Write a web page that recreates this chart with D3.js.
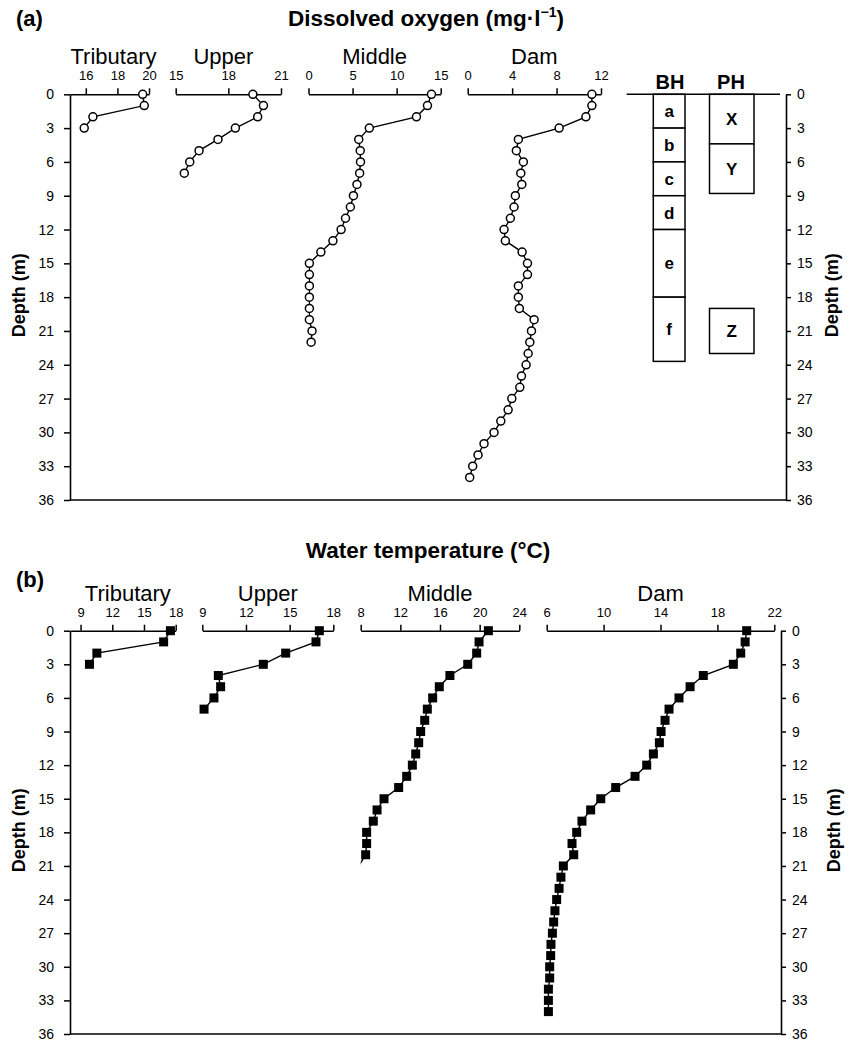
<!DOCTYPE html>
<html><head><meta charset="utf-8">
<script src="https://cdn.jsdelivr.net/npm/d3@7"></script>
<style>
html,body{margin:0;padding:0;background:#fff;}
svg{display:block;font-family:"Liberation Sans",Arial,Helvetica,sans-serif;}
</style></head><body>
<svg id="chart" width="852" height="1042"></svg>
<script>
// ---------------- DATA ----------------
const stations = ["Tributary", "Upper", "Middle", "Dam"];
const depthLevels = [0,1,2,3,4,5,6,7,8,9,10,11,12,13,14,15,16,17,18,19,20,21,22,23,24,25,26,27,28,29,30,31,32,33,34];
const depthTicks = [0,3,6,9,12,15,18,21,24,27,30,33,36];

// Dissolved oxygen (mg/l) by depth (m)
const doTributary = [19.6, 19.7, 16.45, 15.9];
const doUpper = [19.4, 20.0, 19.67, 18.4, 17.41, 16.33, 15.8, 15.49];
const doMiddle = [13.95, 13.5, 12.25, 6.9, 5.7, 5.87, 5.9, 5.8, 5.5, 5.1, 4.75, 4.2, 3.7, 2.77, 1.4, 0.1, 0.1, 0.1, 0.1, 0.1, 0.1, 0.4, 0.3];
const doDam = [11.18, 11.18, 10.64, 8.23, 4.56, 4.38, 5.01, 4.78, 4.87, 4.29, 4.17, 3.84, 3.27, 3.39, 4.9, 5.38, 5.38, 4.56, 4.56, 4.65, 5.98, 5.74, 5.59, 5.44, 5.26, 4.84, 4.69, 3.97, 3.64, 2.98, 2.37, 1.47, 0.93, 0.45, 0.18];

// Water temperature (°C) by depth (m)
const wtTributary = [17.5, 16.86, 10.54, 9.84];
const wtUpper = [17.04, 16.81, 14.73, 13.19, 10.1, 10.26, 9.8, 9.12];
const wtMiddle = [20.88, 19.94, 19.7, 18.8, 17.0, 15.93, 15.26, 14.72, 14.46, 14.05, 13.85, 13.55, 13.21, 12.64, 11.83, 10.35, 9.65, 9.27, 8.6, 8.6, 8.5, 7.8];
const wtDam = [20.06, 19.95, 19.64, 19.12, 17.01, 16.08, 15.3, 14.6, 14.32, 14.04, 13.92, 13.5, 13.03, 12.21, 10.85, 9.8, 9.09, 8.48, 8.11, 7.78, 7.9, 7.17, 7.0, 6.87, 6.7, 6.58, 6.49, 6.4, 6.3, 6.28, 6.21, 6.21, 6.12, 6.12, 6.12];

// axis domains and tick labels
const doDomains = [[15, 20], [15, 21], [0, 15], [0, 12]];
const doTicks = [[16, 18, 20], [15, 18, 21], [0, 5, 10, 15], [0, 4, 8, 12]];
const wtDomains = [[8, 18], [9, 18], [8, 24], [6, 22]];
const wtTicks = [[9, 12, 15, 18], [9, 12, 15, 18], [8, 12, 16, 20, 24], [6, 10, 14, 18, 22]];

// Layer zones (depth, m)
const bhLabels = ["a", "b", "c", "d", "e", "f"];
const bhTop = [0, 3, 6, 9, 12, 18];
const bhBottom = [3, 6, 9, 12, 18, 23.7];
const phLabels = ["X", "Y", "Z"];
const phTop = [0, 4.4, 19];
const phBottom = [4.4, 8.8, 23];

// ---------------- DRAW ----------------
const svg = d3.select("#chart");
const FONT = '"Liberation Sans",Arial,Helvetica,sans-serif';
const fmt = d3.format("d");

function styleAxis(sel, fs) {
  sel.attr("font-size", fs).attr("font-family", FONT);
  sel.selectAll("path.domain").attr("stroke", "#000").attr("stroke-width", 1.6);
  sel.selectAll(".tick line").attr("stroke", "#000").attr("stroke-width", 1.5);
  sel.selectAll(".tick text").attr("fill", "#000");
}

function drawPanel(opt) {
  const g = svg.append("g");
  const y = d3.scaleLinear().domain([0, 36]).range([opt.y0, opt.y1]);

  // left depth axis
  const la = g.append("g").attr("transform", `translate(${opt.xl},0)`)
    .call(d3.axisLeft(y).tickValues(depthTicks).tickFormat(fmt).tickSize(6).tickSizeOuter(0).tickPadding(10));
  styleAxis(la, 14);
  // right depth axis
  const ra = g.append("g").attr("transform", `translate(${opt.xr},0)`)
    .call(d3.axisRight(y).tickValues(depthTicks).tickFormat(fmt).tickSize(5).tickSizeOuter(0).tickPadding(6));
  styleAxis(ra, 14);
  // bottom frame line
  g.append("line").attr("x1", opt.xl).attr("x2", opt.xr)
    .attr("y1", y(36)).attr("y2", y(36)).attr("stroke", "#000").attr("stroke-width", 1.6);

  // axis titles
  const cy = (opt.y0 + opt.y1) / 2 - 2;
  g.append("text").attr("transform", `translate(25,${cy}) rotate(-90)`)
    .attr("text-anchor", "middle").attr("font-weight", "bold").attr("font-size", 18).text("Depth (m)");
  g.append("text").attr("transform", `translate(${opt.rightTitleX},${cy}) rotate(-90)`)
    .attr("text-anchor", "middle").attr("font-weight", "bold").attr("font-size", 18).text("Depth (m)");

  opt.subs.forEach((s, i) => {
    const x = d3.scaleLinear().domain(s.domain).range(s.range);
    const ax = g.append("g").attr("transform", `translate(0,${y(0)})`)
      .call(d3.axisTop(x).tickValues(s.ticks).tickFormat(fmt).tickSize(6).tickSizeOuter(0).tickPadding(8));
    styleAxis(ax, 13);

    g.append("text").attr("x", (s.range[0] + s.range[1]) / 2 + (s.dx || 0)).attr("y", y(0) - 30)
      .attr("text-anchor", "middle").attr("font-size", 22).text(stations[i]);

    const clipId = `clip-${opt.id}-${i}`;
    g.append("clipPath").attr("id", clipId).append("rect")
      .attr("x", s.range[0]).attr("y", opt.y0 - 10)
      .attr("width", s.range[1] - s.range[0] + 10).attr("height", opt.y1 - opt.y0 + 20);

    const pts = s.values.map((v, k) => ({ v: v, d: depthLevels[k] }));
    const line = d3.line().x(d => x(d.v)).y(d => y(d.d));
    g.append("path").datum(pts).attr("clip-path", `url(#${clipId})`)
      .attr("d", line).attr("fill", "none").attr("stroke", "#000").attr("stroke-width", 1.4);

    const vis = pts.filter(d => d.v >= s.domain[0] && d.v <= s.domain[1]);
    if (opt.marker === "circle") {
      g.selectAll(null).data(vis).enter().append("circle")
        .attr("cx", d => x(d.v)).attr("cy", d => y(d.d)).attr("r", 4)
        .attr("fill", "#fff").attr("stroke", "#000").attr("stroke-width", 1.5);
    } else {
      g.selectAll(null).data(vis).enter().append("rect")
        .attr("x", d => x(d.v) - 4.5).attr("y", d => y(d.d) - 4.5)
        .attr("width", 9).attr("height", 9).attr("fill", "#000");
    }
  });
  return y;
}

// Panel (a)
svg.append("text").attr("x", 16).attr("y", 26).attr("font-weight", "bold").attr("font-size", 22).text("(a)");
const ta = svg.append("text").attr("x", 426).attr("y", 26).attr("text-anchor", "middle")
  .attr("font-weight", "bold").attr("font-size", 22.5);
ta.append("tspan").text("Dissolved oxygen (mg\u00B7l");
ta.append("tspan").attr("font-size", 14).attr("dy", -9).text("\u22121");
ta.append("tspan").attr("dy", 9).text(")");

const yA = drawPanel({
  id: "a", y0: 94.3, y1: 500, xl: 70, xr: 786, rightTitleX: 838, marker: "circle",
  subs: [
    { values: doTributary, domain: doDomains[0], ticks: doTicks[0], range: [70, 149], dx: 4 },
    { values: doUpper, domain: doDomains[1], ticks: doTicks[1], range: [175.7, 281], dx: -5 },
    { values: doMiddle, domain: doDomains[2], ticks: doTicks[2], range: [308.5, 440.7] },
    { values: doDam, domain: doDomains[3], ticks: doTicks[3], range: [467.7, 601] }
  ]
});

// BH / PH zone diagram
const zg = svg.append("g");
zg.append("line").attr("x1", 626.7).attr("x2", 780).attr("y1", yA(0)).attr("y2", yA(0))
  .attr("stroke", "#000").attr("stroke-width", 1.6);
zg.append("text").attr("x", 670).attr("y", 89).attr("text-anchor", "middle")
  .attr("font-weight", "bold").attr("font-size", 20).text("BH");
zg.append("text").attr("x", 731).attr("y", 89).attr("text-anchor", "middle")
  .attr("font-weight", "bold").attr("font-size", 20).text("PH");
const bhX0 = 653.3, bhX1 = 685, phX0 = 709.5, phX1 = 754;
bhLabels.forEach((lab, k) => {
  zg.append("rect").attr("x", bhX0).attr("y", yA(bhTop[k])).attr("width", bhX1 - bhX0)
    .attr("height", yA(bhBottom[k]) - yA(bhTop[k])).attr("fill", "#fff").attr("stroke", "#000").attr("stroke-width", 1.5);
  zg.append("text").attr("x", (bhX0 + bhX1) / 2).attr("y", (yA(bhTop[k]) + yA(bhBottom[k])) / 2)
    .attr("dy", "0.35em").attr("text-anchor", "middle").attr("font-weight", "bold").attr("font-size", 17).text(lab);
});
phLabels.forEach((lab, k) => {
  zg.append("rect").attr("x", phX0).attr("y", yA(phTop[k])).attr("width", phX1 - phX0)
    .attr("height", yA(phBottom[k]) - yA(phTop[k])).attr("fill", "#fff").attr("stroke", "#000").attr("stroke-width", 1.5);
  zg.append("text").attr("x", (phX0 + phX1) / 2).attr("y", (yA(phTop[k]) + yA(phBottom[k])) / 2)
    .attr("dy", "0.36em").attr("text-anchor", "middle").attr("font-weight", "bold").attr("font-size", 17).text(lab);
});

// Panel (b)
svg.append("text").attr("x", 16).attr("y", 587).attr("font-weight", "bold").attr("font-size", 22).text("(b)");
svg.append("text").attr("x", 428).attr("y", 558).attr("text-anchor", "middle")
  .attr("font-weight", "bold").attr("font-size", 22.5).text("Water temperature (\u00B0C)");

drawPanel({
  id: "b", y0: 630.7, y1: 1034, xl: 70, xr: 781, rightTitleX: 840, marker: "square",
  subs: [
    { values: wtTributary, domain: wtDomains[0], ticks: wtTicks[0], range: [70, 175.7], dx: 5 },
    { values: wtUpper, domain: wtDomains[1], ticks: wtTicks[1], range: [202.3, 333.3] },
    { values: wtMiddle, domain: wtDomains[2], ticks: wtTicks[2], range: [360.7, 519.3] },
    { values: wtDam, domain: wtDomains[3], ticks: wtTicks[3], range: [546.7, 774.3] }
  ]
});
</script>
</body></html>
